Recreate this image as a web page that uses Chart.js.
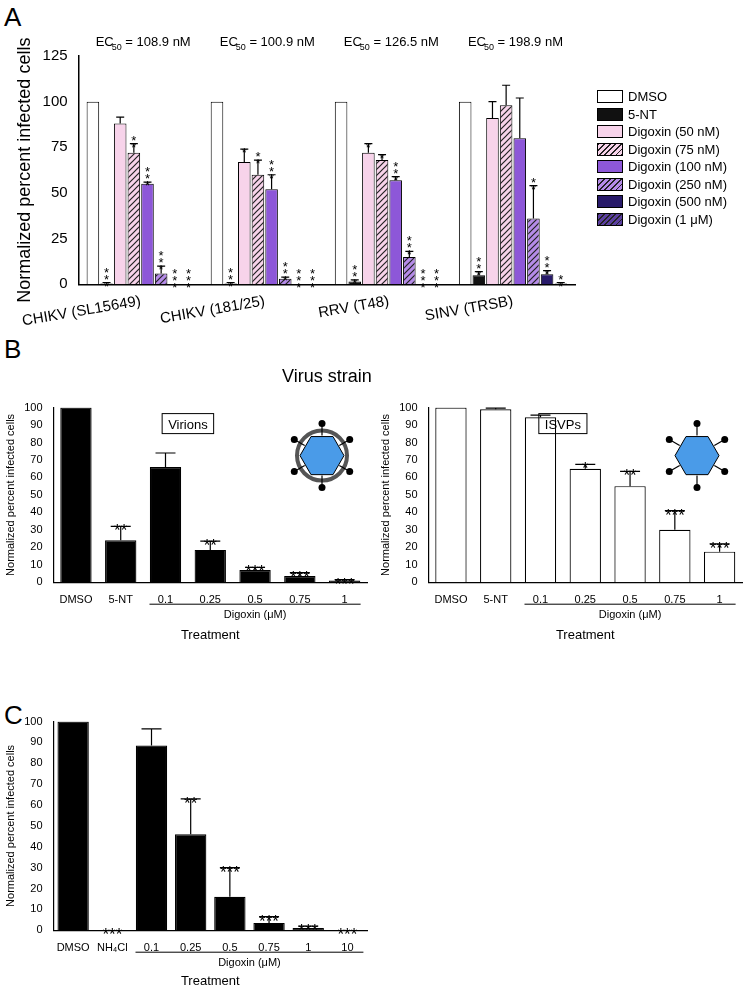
<!DOCTYPE html>
<html><head><meta charset="utf-8">
<script src="https://cdn.jsdelivr.net/npm/chart.js@4"></script>
<style>
body{margin:0;width:750px;height:993px;background:#fff;position:relative;font-family:"Liberation Sans",Arial,sans-serif;overflow:hidden}
.box{position:absolute}
.lt{position:absolute;font-size:26px;font-family:"Liberation Sans",Arial}
#leg{position:absolute;left:597px;top:88px;font-size:13px;line-height:17.5px}
#leg div{display:flex;align-items:center;white-space:nowrap}
#leg span.sw{display:inline-block;width:24px;height:11px;border:1px solid #000;margin-right:5px}
</style></head><body>
<div class="lt" style="left:4px;top:2px">A</div>
<div class="lt" style="left:4px;top:334px">B</div>
<div class="lt" style="left:4px;top:700px">C</div>
<div class="box" style="left:0;top:0;width:750px;height:392px"><canvas id="cA"></canvas></div>
<div id="leg"></div>
<div class="box" style="left:0;top:398px;width:375px;height:249px"><canvas id="cB1"></canvas></div>
<div class="box" style="left:375px;top:398px;width:375px;height:249px"><canvas id="cB2"></canvas></div>
<div class="box" style="left:0;top:712px;width:375px;height:281px"><canvas id="cC"></canvas></div>
<script>
// panel A
const strains = ['CHIKV (SL15649)', 'CHIKV (181/25)', 'RRV (T48)', 'SINV (TRSB)'];
const ec50 = ['108.9', '100.9', '126.5', '198.9'];
const seriesA = ['DMSO', '5-NT', 'Digoxin (50 nM)', 'Digoxin (75 nM)', 'Digoxin (100 nM)', 'Digoxin (250 nM)', 'Digoxin (500 nM)', 'Digoxin (1 \u03bcM)'];
const valsA = [
  [100, 100, 100, 100],
  [0.5, 0.5, 1.5, 5],
  [88, 67, 72, 91],
  [72, 60, 68, 98],
  [55, 52, 57, 80],
  [6, 3, 15, 36],
  [0, 0, 0, 5.5],
  [0, 0, 0, 0.5]
];
const errA = [
  [0, 0, 0, 0],
  [0.5, 0.5, 1, 2],
  [3.5, 7, 5, 9],
  [5, 8, 3, 11],
  [1, 8, 2, 22],
  [4, 1, 3, 18],
  [0, 0, 0, 2],
  [0, 0, 0, 0.5]
];
const starsA = [
  [0, 0, 0, 0],
  [3, 3, 3, 3],
  [0, 1, 1, 0],
  [2, 2, 1, 0],
  [3, 3, 3, 0],
  [3, 3, 3, 2],
  [3, 3, 3, 3],
  [3, 3, 3, 2]
];
const colA = ['#ffffff', '#111111', '#f7d3ea', '#f7d3ea', '#8d57d8', '#b58be8', '#281a6a', '#5b3fa0'];
const hatchA = [false, false, false, true, false, true, false, true];

// panel B
const catsB = ['DMSO', '5-NT', '0.1', '0.25', '0.5', '0.75', '1'];
const virions = [100, 24, 66, 18.5, 7, 3.5, 1];
const virionsErr = [0, 8, 8, 5, 1.5, 2, 0.5];
const virionsStars = ['', '**', '', '**', '***', '***', '***'];
const isvps = [100, 99, 94.5, 65, 55, 30, 17.5];
const isvpsErr = [0, 0.7, 1.2, 2.5, 8.5, 11, 4.5];
const isvpsStars = ['', '', '', '*', '**', '***', '***'];

// panel C
const catsC = ['DMSO', 'NH\u2084Cl', '0.1', '0.25', '0.5', '0.75', '1', '10'];
const valsC = [100, 0, 88.5, 46, 16, 3.5, 1, 0];
const errC = [0, 0, 8, 17, 14, 3, 1, 0];
const starsC = ['', '***', '', '**', '***', '***', '***', '***'];

function hatch(base) {
  const c = document.createElement('canvas'); c.width = 6; c.height = 6;
  const x = c.getContext('2d');
  x.fillStyle = base; x.fillRect(0, 0, 6, 6);
  x.strokeStyle = '#222'; x.lineWidth = 1.2;
  x.beginPath(); x.moveTo(0, 6); x.lineTo(6, 0); x.moveTo(-1, 1); x.lineTo(1, -1); x.moveTo(5, 7); x.lineTo(7, 5); x.stroke();
  return x.createPattern(c, 'repeat');
}

// html legend for A
const leg = document.getElementById('leg');
seriesA.forEach((n, i) => {
  const d = document.createElement('div');
  const bg = hatchA[i] ? `repeating-linear-gradient(135deg, #222 0 1.2px, ${colA[i]} 1.2px 4px)` : colA[i];
  d.innerHTML = `<span class="sw" style="background:${bg}"></span>${n}`;
  leg.appendChild(d);
});

const extras = {
  id: 'extras',
  afterDatasetsDraw(chart, args, o) {
    const ctx = chart.ctx, y = chart.scales.y;
    ctx.save();
    chart.data.datasets.forEach((ds, i) => {
      const meta = chart.getDatasetMeta(i);
      meta.data.forEach((bar, j) => {
        const e = o.err[i][j], v = ds.data[j];
        let top = y.getPixelForValue(v + e);
        if (e > 0) {
          ctx.strokeStyle = '#000'; ctx.lineWidth = 1.2;
          ctx.beginPath();
          ctx.moveTo(bar.x, y.getPixelForValue(v)); ctx.lineTo(bar.x, top);
          ctx.moveTo(bar.x - o.cap, top); ctx.lineTo(bar.x + o.cap, top);
          ctx.stroke();
        }
        const s = o.stars[i][j];
        ctx.fillStyle = '#000'; ctx.textAlign = 'center';
        if (o.vertical) {
          ctx.font = '13px "Liberation Sans"';
          for (let k = 0; k < s; k++) ctx.fillText('*', bar.x, top + 8 - k * 7);
        } else if (s) {
          ctx.font = '17px "Liberation Sans"';
          ctx.fillText(s, bar.x, top + 10);
        }
      });
    });
    if (o.bracket) {
      const x = chart.scales.x, b = o.bracket;
      const x0 = x.getPixelForValue(b.from) - b.pad, x1 = x.getPixelForValue(b.to) + b.pad;
      const yy = chart.chartArea.bottom + 22;
      ctx.strokeStyle = '#000'; ctx.lineWidth = 1;
      ctx.beginPath(); ctx.moveTo(x0, yy); ctx.lineTo(x1, yy); ctx.stroke();
      ctx.font = '11px "Liberation Sans"';
      ctx.fillText('Digoxin (\u03bcM)', (x0 + x1) / 2, yy + 14);
    }
    if (o.ec) {
      const x = chart.scales.x;
      ctx.font = '13px "Liberation Sans"';
      o.ec.forEach((t, j) => {
        const cx = x.getPixelForValue(j);
        ctx.fillText('EC', cx - 36, 46);
        ctx.font = '9px "Liberation Sans"'; ctx.fillText('50', cx - 24, 50);
        ctx.font = '13px "Liberation Sans"'; ctx.textAlign = 'left';
        ctx.fillText(' = ' + t + ' nM', cx - 19, 46); ctx.textAlign = 'center';
      });
    }
    if (o.tag) {
      const a = chart.chartArea;
      ctx.font = '13px "Liberation Sans"';
      const w = ctx.measureText(o.tag).width + 12;
      const tx = chart.scales.x.getPixelForValue(2.5);
      ctx.strokeStyle = '#000'; ctx.strokeRect(tx - w / 2, a.top + 6, w, 20);
      ctx.fillText(o.tag, tx, a.top + 21);
      // virus icon
      const cx = a.right - 45, cy = a.top + 48, r = 22;
      ctx.beginPath();
      for (let k = 0; k < 6; k++) { const an = Math.PI / 3 * k; ctx.lineTo(cx + r * Math.cos(an), cy + r * Math.sin(an)); }
      ctx.closePath(); ctx.fillStyle = '#4a9be8'; ctx.fill(); ctx.stroke();
      if (o.shell) { ctx.beginPath(); ctx.arc(cx, cy, r + 3, 0, Math.PI * 2); ctx.strokeStyle = '#555'; ctx.lineWidth = 4; ctx.stroke(); }
      ctx.strokeStyle = '#000'; ctx.lineWidth = 1.2; ctx.fillStyle = '#000';
      for (let k = 0; k < 6; k++) {
        const an = Math.PI / 3 * k + Math.PI / 6;
        const ex = cx + (r + 10) * Math.cos(an), ey = cy + (r + 10) * Math.sin(an);
        ctx.beginPath(); ctx.moveTo(cx + (r - 2) * Math.cos(an), cy + (r - 2) * Math.sin(an)); ctx.lineTo(ex, ey); ctx.stroke();
        ctx.beginPath(); ctx.arc(ex, ey, 3.5, 0, Math.PI * 2); ctx.fill();
      }
    }
    ctx.restore();
  }
};

Chart.defaults.font.family = '"Liberation Sans", Arial, sans-serif';
Chart.defaults.color = '#000';
Chart.defaults.animation = false;

new Chart(document.getElementById('cA'), {
  type: 'bar',
  data: {
    labels: strains,
    datasets: seriesA.map((n, i) => ({
      label: n, data: valsA[i],
      backgroundColor: hatchA[i] ? hatch(colA[i]) : colA[i],
      borderColor: '#000', borderWidth: 1
    }))
  },
  options: {
    responsive: true, maintainAspectRatio: false,
    layout: { padding: { top: 56, right: 175, left: 10 } },
    categoryPercentage: 0.88, barPercentage: 0.92,
    plugins: {
      legend: { display: false },
      tooltip: { enabled: false },
      extras: { err: errA, stars: starsA, vertical: true, cap: 4, ec: ec50 }
    },
    scales: {
      y: {
        min: 0, max: 125,
        ticks: { stepSize: 25, font: { size: 15 } },
        grid: { display: false }, border: { color: '#000', width: 1.5 },
        title: { display: true, text: 'Normalized percent infected cells', font: { size: 18 } }
      },
      x: {
        ticks: { font: { size: 15 }, padding: 0 }, grid: { display: false }, border: { color: '#000', width: 1.5 },
        title: { display: true, text: 'Virus strain', font: { size: 18 }, padding: { top: 36 } }
      }
    }
  },
  plugins: [extras]
});

function small(id, cats, vals, err, stars, bg, tag, shell, brFrom, brTo, titlePad, barPct) {
  return new Chart(document.getElementById(id), {
    type: 'bar',
    data: { labels: cats, datasets: [{ data: vals, backgroundColor: bg, borderColor: '#000', borderWidth: 1.2 }] },
    options: {
      responsive: true, maintainAspectRatio: false,
      layout: { padding: { top: 6, right: 8 } },
      categoryPercentage: 1, barPercentage: barPct,
      plugins: {
        legend: { display: false }, tooltip: { enabled: false },
        extras: { err: [err], stars: [stars], cap: 10, bracket: { from: brFrom, to: brTo, pad: 16 }, tag: tag, shell: shell }
      },
      scales: {
        y: {
          min: 0, max: 100, ticks: { stepSize: 10, font: { size: 11 } },
          grid: { display: false }, border: { color: '#000', width: 1.2 },
          title: { display: true, text: 'Normalized percent infected cells', font: { size: 11 } }
        },
        x: {
          ticks: { font: { size: 11 }, maxRotation: 0, autoSkip: false }, grid: { display: false },
          border: { color: '#000', width: 1.2 },
          title: { display: true, text: 'Treatment', font: { size: 13 }, padding: { top: titlePad } }
        }
      }
    },
    plugins: [extras]
  });
}
small('cB1', catsB, virions, virionsErr, virionsStars, '#000', 'Virions', true, 2, 6, 18, 0.7);
small('cB2', catsB, isvps, isvpsErr, isvpsStars, '#fff', 'ISVPs', false, 2, 6, 18, 0.7);
small('cC', catsC, valsC, errC, starsC, '#000', null, false, 2, 7, 16, 0.8);
</script>
</body></html>
